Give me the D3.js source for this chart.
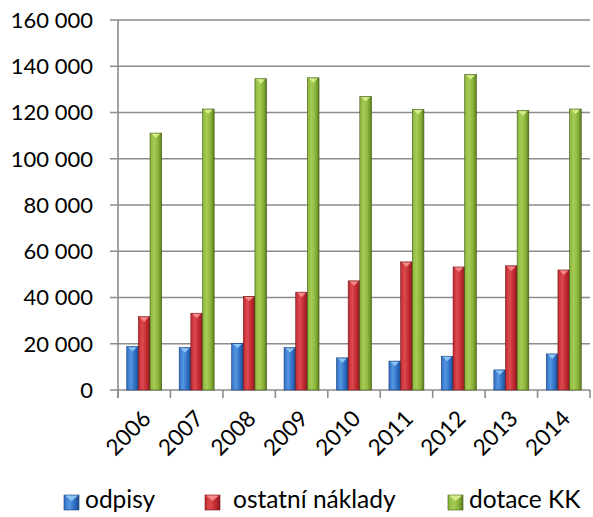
<!DOCTYPE html>
<html>
<head>
<meta charset="utf-8">
<script src="https://cdn.jsdelivr.net/npm/d3@7/dist/d3.min.js"></script>
<style>
  html, body { margin: 0; padding: 0; background: #fff; }
  svg { display: block; font-family: Lato, "Open Sans", sans-serif; }
</style>
</head>
<body>
<svg id="chart" width="593" height="517"></svg>
<script>
const years = ["2006","2007","2008","2009","2010","2011","2012","2013","2014"];
const seriesNames = ["odpisy", "ostatní náklady", "dotace KK"];
const odpisy = [18800, 18300, 20200, 18300, 13900, 12500, 14600, 8700, 15600];
const ostatniNaklady = [31700, 33200, 40500, 42300, 47200, 55400, 53200, 53700, 51900];
const dotaceKK = [111100, 121500, 134600, 135000, 126900, 121300, 136400, 120800, 121500];
const yTicks = [0, 20000, 40000, 60000, 80000, 100000, 120000, 140000, 160000];

const palette = [
  { dark: "#1b4a8f", mid: "#2f6fc6", light: "#5596e0", tip: "#8cc4f4", edge: "#163c74" },
  { dark: "#8c1a1f", mid: "#c02a30", light: "#dc4a4e", tip: "#f48a8a", edge: "#6e1418" },
  { dark: "#5c7d1f", mid: "#8ab53a", light: "#a6cc55", tip: "#d4ec8a", edge: "#3f5613" }
];

const series = [odpisy, ostatniNaklady, dotaceKK];
const svg = d3.select("#chart");
const margin = { left: 118, right: 3, top: 20, bottom: 127 };
const W = 593, H = 517;
const x0 = margin.left, x1 = W - margin.right;
const yTop = margin.top, yBot = H - margin.bottom;

const x = d3.scaleBand().domain(years).range([x0, x1]).paddingInner(1/3).paddingOuter(1/6);
const xs = d3.scaleBand().domain(d3.range(series.length)).range([0, x.bandwidth()]);
const y = d3.scaleLinear().domain([0, 160000]).range([yBot, yTop]);

const defs = svg.append("defs");
palette.forEach((p, i) => {
  const g = defs.append("linearGradient").attr("id", "grad" + i)
    .attr("x1", "0").attr("x2", "1").attr("y1", "0").attr("y2", "0");
  g.append("stop").attr("offset", "0%").attr("stop-color", p.mid);
  g.append("stop").attr("offset", "35%").attr("stop-color", p.light);
  g.append("stop").attr("offset", "70%").attr("stop-color", p.mid);
  g.append("stop").attr("offset", "100%").attr("stop-color", p.dark);
});

// gridlines
const fmt = v => d3.format(",")(v).replace(/,/g, " ");
svg.append("g").selectAll("line").data(yTicks).join("line")
  .attr("x1", x0 - 8).attr("x2", x1)
  .attr("y1", d => y(d)).attr("y2", d => y(d))
  .attr("stroke", "#8c8c8c").attr("stroke-width", 1.6);

// y axis line
svg.append("line").attr("x1", x0).attr("x2", x0).attr("y1", yTop).attr("y2", yBot + 8)
  .attr("stroke", "#8c8c8c").attr("stroke-width", 1.6);

// x tick marks at category boundaries
const bounds = years.map(d => x(d) - x.step() * x.paddingOuter()).concat([x1]);
svg.append("g").selectAll("line").data(bounds).join("line")
  .attr("x1", d => d).attr("x2", d => d).attr("y1", yBot).attr("y2", yBot + 8)
  .attr("stroke", "#8c8c8c").attr("stroke-width", 1.6);

// y labels
svg.append("g").selectAll("text").data(yTicks).join("text")
  .attr("x", 93).attr("y", d => y(d)).attr("dy", "0.36em")
  .attr("text-anchor", "end").attr("font-size", 22).attr("fill", "#000")
  .text(d => fmt(d));

// bars
const barG = svg.append("g");
series.forEach((vals, si) => {
  const p = palette[si];
  const g = barG.append("g");
  vals.forEach((v, i) => {
    const bx = x(years[i]) + xs(si);
    const bw = xs.bandwidth();
    const by = y(v);
    const bh = y(0) - by;
    g.append("rect").attr("x", bx).attr("y", by).attr("width", bw).attr("height", bh)
      .attr("fill", `url(#grad${si})`).attr("stroke", p.edge).attr("stroke-width", 0.6);
    const tw = bw * 0.75, th = 5;
    g.append("path")
      .attr("d", `M${bx + (bw - tw) / 2},${by + 0.6} L${bx + (bw + tw) / 2},${by + 0.6} L${bx + bw / 2},${by + th} Z`)
      .attr("fill", p.tip);
  });
});

// x labels rotated
svg.append("g").selectAll("text").data(years).join("text")
  .attr("transform", d => `translate(${x(d) + x.bandwidth() / 2 + 8},${yBot + 30}) rotate(-45)`)
  .attr("text-anchor", "end").attr("font-size", 22.5).attr("fill", "#000")
  .text(d => d);

// legend
const legendX = [64, 205, 448];
const legendTextX = [85, 233, 469];
const legend = svg.append("g");
seriesNames.forEach((name, si) => {
  const p = palette[si];
  const lx = legendX[si], ly = 495;
  legend.append("rect").attr("x", lx).attr("y", ly).attr("width", 15).attr("height", 15)
    .attr("fill", `url(#grad${si})`).attr("stroke", p.edge).attr("stroke-width", 0.6);
  legend.append("path")
    .attr("d", `M${lx + 1},${ly + 0.6} L${lx + 14},${ly + 0.6} L${lx + 7.5},${ly + 6} Z`)
    .attr("fill", p.tip);
  legend.append("text").attr("x", legendTextX[si]).attr("y", 508)
    .attr("font-size", 24.5).attr("fill", "#000").text(name);
});
</script>
</body>
</html>
